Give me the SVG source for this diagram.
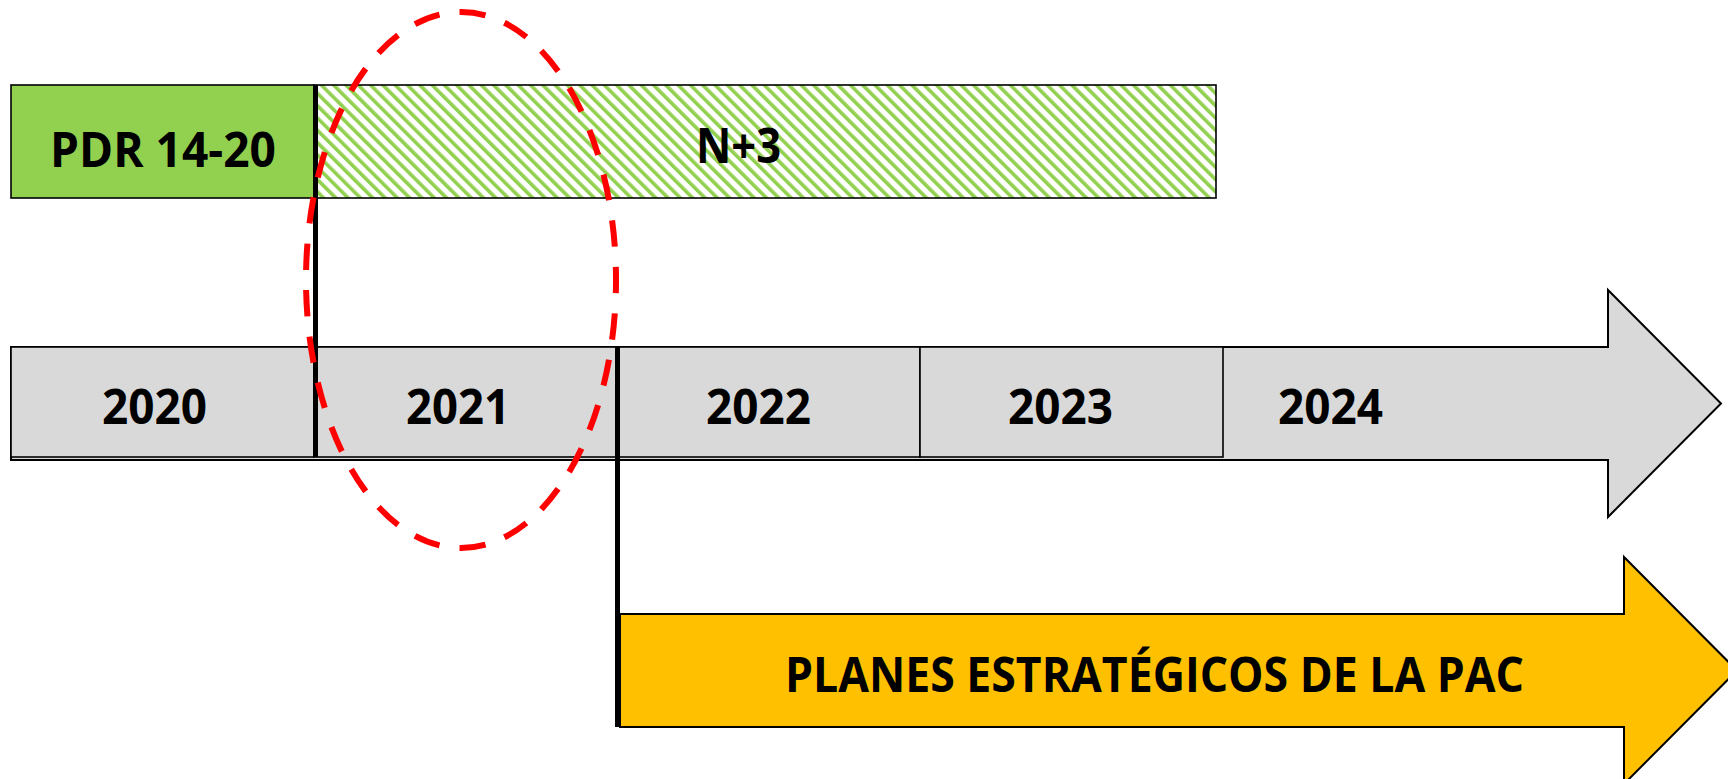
<svg xmlns="http://www.w3.org/2000/svg" width="1728" height="779" viewBox="0 0 1728 779">
  <defs>
    <pattern id="hatch" patternUnits="userSpaceOnUse" width="8.7" height="8.7" patternTransform="rotate(-45)">
      <rect x="0" y="0" width="8.7" height="8.7" fill="#ffffff"/>
      <rect x="0" y="0" width="3.6" height="8.7" fill="#92D050"/>
    </pattern>
    <style>
      .lbl { font-family: "Open Sans", Lato, "Liberation Sans", sans-serif; font-weight: 700; font-size: 49px; fill: #000000; }
      .box { stroke: #000000; stroke-width: 1.6; }
      .cell { fill: #D9D9D9; stroke: #000000; stroke-width: 1.6; }
      .divider { stroke: #000000; stroke-width: 5; fill: none; }
    </style>
  </defs>
  <rect x="0" y="0" width="1728" height="779" fill="#ffffff"/>

  <g id="timeline-arrow">
    <polygon points="11,347 1608,347 1608,290 1721,403.5 1608,517 1608,460 11,460" fill="#D9D9D9" stroke="#000000" stroke-width="2"/>
  </g>

  <g id="year-2020">
    <rect class="cell" x="11" y="347" width="303" height="110"/>
    <text class="lbl" x="102" y="424" textLength="105" lengthAdjust="spacingAndGlyphs">2020</text>
  </g>
  <g id="year-2021">
    <rect class="cell" x="314" y="347" width="303" height="110"/>
    <text class="lbl" x="406" y="424" textLength="104" lengthAdjust="spacingAndGlyphs">2021</text>
  </g>
  <g id="year-2022">
    <rect class="cell" x="617" y="347" width="303" height="110"/>
    <text class="lbl" x="706" y="424" textLength="105" lengthAdjust="spacingAndGlyphs">2022</text>
  </g>
  <g id="year-2023">
    <rect class="cell" x="920" y="347" width="303" height="110"/>
    <text class="lbl" x="1008" y="424" textLength="105" lengthAdjust="spacingAndGlyphs">2023</text>
  </g>
  <g id="year-2024">
    <text class="lbl" x="1278" y="424" textLength="105" lengthAdjust="spacingAndGlyphs">2024</text>
  </g>

  <g id="pdr">
    <rect class="box" x="11" y="85" width="303" height="113" fill="#92D050"/>
    <text class="lbl" x="50" y="167" textLength="226" lengthAdjust="spacingAndGlyphs">PDR 14-20</text>
  </g>

  <g id="n3">
    <rect class="box" x="314" y="85" width="902" height="113" fill="url(#hatch)"/>
    <text class="lbl" x="696" y="163" textLength="85" lengthAdjust="spacingAndGlyphs">N+3</text>
  </g>

  <g id="pac">
    <polygon points="620,614 1624,614 1624,557 1737,670.5 1624,784 1624,727 620,727" fill="#FFC000" stroke="#000000" stroke-width="2"/>
    <text class="lbl" x="785" y="692" textLength="739" lengthAdjust="spacingAndGlyphs">PLANES ESTRATÉGICOS DE LA PAC</text>
  </g>

  <g id="connectors">
    <line class="divider" x1="315.5" y1="85" x2="315.5" y2="457"/>
    <line class="divider" x1="617.5" y1="347" x2="617.5" y2="727"/>
  </g>

  <g id="highlight">
    <ellipse cx="461" cy="280" rx="155" ry="268" fill="none" stroke="#FF0000" stroke-width="6" pathLength="1334" stroke-dasharray="26 20" stroke-dashoffset="13"/>
  </g>
</svg>
